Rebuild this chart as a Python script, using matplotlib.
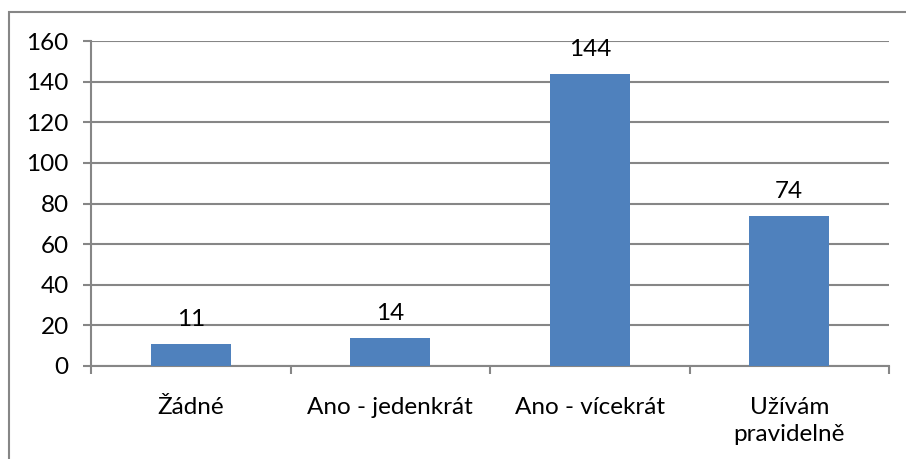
import matplotlib.pyplot as plt
from matplotlib.patches import Rectangle

# data
categories = ["Žádné", "Ano - jedenkrát", "Ano - vícekrát", "Užívám\npravidelně"]
values = [11, 14, 144, 74]
yticks = [0, 20, 40, 60, 80, 100, 120, 140, 160]

plt.rcParams['font.family'] = ['Lato', 'DejaVu Sans']
FS = 17.5

W, H = 906, 459
fig = plt.figure(figsize=(W / 100, H / 100), dpi=100)

# outer chart border (only top/left visible)
fig.patches.append(Rectangle((9 / W, -0.1), 1.2, 1 - 12 / H + 0.1, transform=fig.transFigure,
                             fill=False, edgecolor="#868686", linewidth=1.5))

ax = fig.add_axes([91 / W, 1 - 366 / H, (889 - 91) / W, (366 - 41) / H])
x = list(range(len(categories)))
ax.bar(x, values, width=0.4, color="#4F81BD", zorder=3)
ax.set_xlim(-0.5, len(categories) - 0.5)
ax.set_ylim(0, 160)
ax.set_yticks(yticks)
ax.yaxis.grid(True, color="#868686", linewidth=1.5, zorder=0)
for s in ["top", "right"]:
    ax.spines[s].set_visible(False)
for s in ["left", "bottom"]:
    ax.spines[s].set_color("#868686")
    ax.spines[s].set_linewidth(1.5)
ax.tick_params(axis="y", length=6, color="#868686", width=1.5, labelsize=FS, pad=10)
ax.set_xticks(x)
ax.set_xticklabels(categories, fontsize=FS, linespacing=1.4)
ax.tick_params(axis="x", length=0, pad=22)
ax.set_xticks([i - 0.5 for i in range(len(categories) + 1)], minor=True)
ax.tick_params(axis="x", which="minor", length=6, color="#868686", width=1.5)

for xi, v in zip(x, values):
    ax.annotate(str(v), (xi, v), xytext=(0, 10), textcoords="offset points",
                ha="center", va="bottom", fontsize=FS)

fig.savefig("out.png", dpi=100)
